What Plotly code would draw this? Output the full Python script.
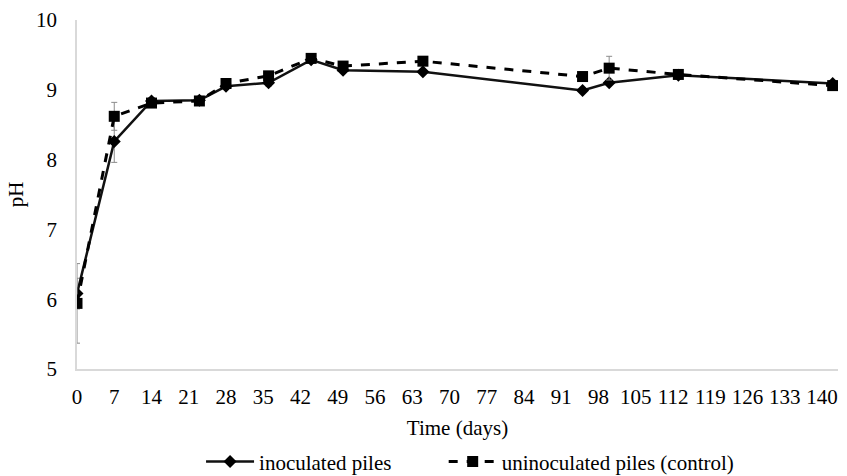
import plotly.graph_objects as go

days = [0, 7, 14, 23, 28, 36, 44, 50, 65, 95, 100, 113, 142]
inoculated = [6.08, 8.26, 8.84, 8.85, 9.05, 9.10, 9.43, 9.28, 9.26, 8.99, 9.10, 9.21, 9.09]
inoculated_err = [0.22, 0.30, 0.05, 0.02, 0.02, 0.05, 0.02, 0.02, 0.03, 0.03, 0.02, 0.02, 0.02]
control = [5.94, 8.62, 8.81, 8.84, 9.09, 9.20, 9.45, 9.34, 9.41, 9.19, 9.31, 9.22, 9.06]
control_err = [0.57, 0.20, 0.05, 0.02, 0.03, 0.03, 0.02, 0.02, 0.02, 0.07, 0.17, 0.02, 0.02]
tick_vals = list(range(0, 141, 7))
tick_text = [str(v) for v in tick_vals]
series_names = ["inoculated piles", "uninoculated piles (control)"]

font = "Liberation Serif, Times New Roman, serif"
FS = 21
gap = "\u00a0" * 9

fig = go.Figure()
fig.add_trace(go.Scatter(
    x=days, y=inoculated, name=series_names[0] + gap, mode="lines+markers",
    line=dict(color="#111111", width=2.5),
    marker=dict(symbol="diamond", size=10, color="#000000"),
    error_y=dict(type="data", array=inoculated_err, color="#8c8c8c", thickness=1, width=3),
))
fig.add_trace(go.Scatter(
    x=days, y=control, name=series_names[1], mode="lines+markers",
    line=dict(color="#000000", width=3, dash="dash"),
    marker=dict(symbol="square", size=11, color="#000000"),
    error_y=dict(type="data", array=control_err, color="#8c8c8c", thickness=1, width=3),
))

fig.update_layout(
    width=847, height=476,
    margin=dict(l=77, r=9, t=20, b=107, autoexpand=False),
    paper_bgcolor="white", plot_bgcolor="white",
    font=dict(family=font, size=FS, color="#000000"),
    showlegend=True,
    legend=dict(orientation="h", x=0.163, xanchor="left", y=-0.266, yanchor="middle",
                font=dict(family=font, size=FS), itemwidth=48),
)
fig.update_xaxes(
    range=[0, 143], tickvals=tick_vals, ticktext=tick_text, automargin=False,
    showline=True, linecolor="#d9d9d9", linewidth=1.5, showgrid=False, zeroline=False,
    ticks="", ticklabelstandoff=8,
    title=dict(text="Time (days)", standoff=12, font=dict(family=font, size=FS)),
)
fig.update_yaxes(
    range=[5, 10], dtick=1, showline=True, linecolor="#d9d9d9", linewidth=1.5,
    showgrid=False, zeroline=False, ticks="", ticklabelstandoff=14, automargin=False,
    title=dict(text="pH", standoff=7, font=dict(family=font, size=FS)),
)

fig.write_html(
    "out.html",
    config={"displayModeBar": False},
    post_script="document.body.style.margin='0';document.body.style.overflow='hidden';",
)
